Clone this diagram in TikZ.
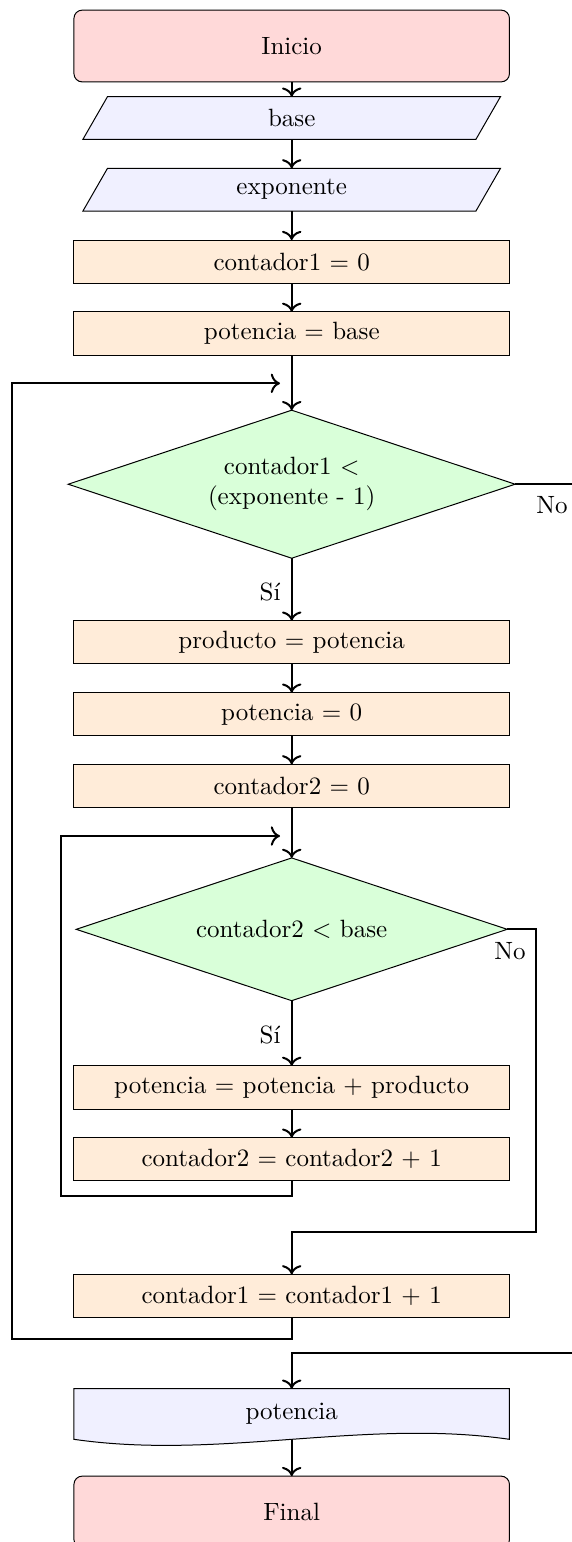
\documentclass[tikz,border=0pt]{standalone}
\usetikzlibrary{shapes.geometric,calc,arrows.meta}
\pgfdeclarelayer{bg}
\pgfsetlayers{bg,main}
\begin{document}
\begin{tikzpicture}[x=0.4pt,y=-0.4pt,
  term/.style={rectangle,rounded corners=3.3pt,draw,fill=red!15,minimum width=174.2pt,minimum height=28.7pt,inner sep=0pt,outer sep=0pt},
  proc/.style={rectangle,draw,fill=orange!15,minimum width=174.2pt,minimum height=17.3pt,inner sep=0pt,outer sep=0pt},
  io/.style={rectangle,minimum width=157.2pt,minimum height=17.04pt,inner sep=0pt,outer sep=0pt},
  ioshape/.style={draw,fill=blue!6},
  dec/.style={diamond,draw,fill=green!15,aspect=3,inner sep=0pt,outer sep=0pt,align=center},
  docnode/.style={rectangle,minimum width=174.2pt,minimum height=20.24pt,inner sep=0pt,outer sep=0pt},
  conn/.style={thick,-{To[scale=1.1]}},
  lbl/.style={inner sep=0pt}
]
\useasboundingbox (0,0) rectangle (572,1542);
\clip (0,0) rectangle (572,1542);
\node[term] (inicio) at (291.7,46) {Inicio};
\node[io] (base) at (291.7,118) {base};
\node[io] (expo) at (291.7,189.7) {exponente};
\node[proc] (c1zero) at (291.7,261.7) {contador1 $=$ 0};
\node[proc] (potbase) at (291.7,333.5) {potencia $=$ base};
\node[dec,minimum width=178.8pt,minimum height=59.2pt] (dec1) at (291.7,484.2) {contador1 $<$\\(exponente - 1)};
\node[proc] (prod) at (291.7,642.3) {producto $=$ potencia};
\node[proc] (pot0) at (291.7,714.3) {potencia $=$ 0};
\node[proc] (c2zero) at (291.7,786) {contador2 $=$ 0};
\node[dec,minimum width=172.4pt,minimum height=57.1pt] (dec2) at (291.7,929.3) {contador2 $<$ base};
\node[proc] (potsum) at (291.7,1087.5) {potencia $=$ potencia $+$ producto};
\node[proc] (c2inc) at (291.7,1159.3) {contador2 $=$ contador2 $+$ 1};
\node[proc] (c1inc) at (291.7,1296) {contador1 $=$ contador1 $+$ 1};
\node[docnode] (out) at (291.7,1414) {potencia};
\node[term] (final) at (291.7,1512) {Final};

\node[lbl,anchor=east] (si1) at (281,591.7) {Sí};
\node[lbl,anchor=east] (si2) at (281,1035) {Sí};
\node[lbl] (no1) at (552,505) {No};
\node[lbl] (no2) at (510,951) {No};

\coordinate (loop1) at (280,383.3);
\coordinate (outerleft) at (11.5,1338.7);
\coordinate (loop2) at (280,836);
\coordinate (innerleft) at (61,1196);
\coordinate (no2corner) at (536,1232);
\coordinate (no1corner) at (600,1352.7);

\begin{pgfonlayer}{bg}
\foreach \n in {base,expo}{
  \path[ioshape] ($(\n.north west)+(12.25,0)$) -- ($(\n.north east)+(12.25,0)$) -- ($(\n.south east)+(-12.25,0)$) -- ($(\n.south west)+(-12.25,0)$) -- cycle;
}
\path[ioshape] (out.north west) -- (out.north east) -- (out.south east) .. controls ($(out.south east)+(-145.2,-21)$) and ($(out.south west)+(145.2,21)$) .. (out.south west) -- cycle;
\end{pgfonlayer}

\draw[conn] (inicio.south) -- (base.north);
\draw[conn] (base.south) -- (expo.north);
\draw[conn] (expo.south) -- (c1zero.north);
\draw[conn] (c1zero.south) -- (potbase.north);
\draw[conn] (potbase.south) -- (dec1.north);
\draw[conn] (dec1.south) -- (prod.north);
\draw[conn] (prod.south) -- (pot0.north);
\draw[conn] (pot0.south) -- (c2zero.north);
\draw[conn] (c2zero.south) -- (dec2.north);
\draw[conn] (dec2.south) -- (potsum.north);
\draw[conn] (potsum.south) -- (c2inc.north);
\draw[conn] (c2inc.south) |- (innerleft) |- (loop2);
\draw[conn] (dec2.east) -| (no2corner) -| (c1inc.north);
\draw[conn] (c1inc.south) |- (outerleft) |- (loop1);
\draw[conn] (dec1.east) -| (no1corner) -| (out.north);
\draw[conn] (out.south) -- (final.north);
\end{tikzpicture}
\end{document}
